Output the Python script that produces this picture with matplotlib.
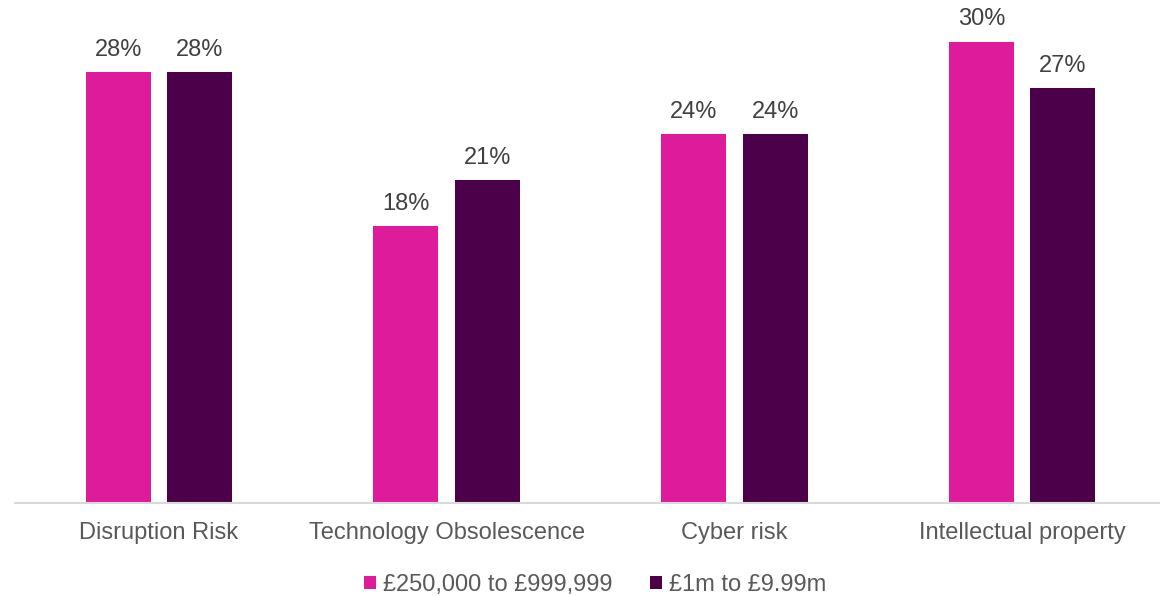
import matplotlib
matplotlib.use("Agg")
import matplotlib.pyplot as plt
from matplotlib.patches import Patch
import numpy as np

plt.rcParams['font.family'] = ['Liberation Sans', 'DejaVu Sans']

categories = ["Disruption Risk", "Technology Obsolescence", "Cyber risk", "Intellectual property"]
series_names = ["£250,000 to £999,999", "£1m to £9.99m"]
small = [28, 18, 24, 30]
large = [28, 21, 24, 27]
colors = ["#DE1B9A", "#4B0049"]

W, H = 1160, 596
fig = plt.figure(figsize=(W / 100, H / 100), dpi=100)
ax = fig.add_axes([15 / W, (H - 503) / H, 1151 / W, 503 / H])

x = np.arange(len(categories))
bw = 0.226
off = 0.1415
for vals, c, dx in [(small, colors[0], -off), (large, colors[1], off)]:
    bars = ax.bar(x + dx, vals, width=bw, color=c, zorder=2)
    for b, v in zip(bars, vals):
        ax.annotate(f"{v}%", (b.get_x() + b.get_width() / 2, v), xytext=(0, 8),
                    textcoords="offset points", ha="center", va="bottom",
                    fontsize=17, color="#404040")

ax.set_xlim(-0.5, 3.5)
ax.set_ylim(0, 32.7)
ax.set_yticks([])
ax.set_xticks(x)
ax.set_xticklabels(categories, fontsize=17, color="#595959")
ax.tick_params(axis="x", length=0, pad=14)
for s in ["top", "right", "left"]:
    ax.spines[s].set_visible(False)
ax.spines["bottom"].set_color("#D9D9D9")
ax.spines["bottom"].set_linewidth(1.5)

handles = [Patch(facecolor=colors[0]), Patch(facecolor=colors[1])]
leg = fig.legend(handles, series_names, loc="center", bbox_to_anchor=(595 / W, (H - 585) / H),
                 ncol=2, frameon=False, fontsize=17, handlelength=0.5, handleheight=0.5,
                 handletextpad=0.3, columnspacing=1.6, borderaxespad=0)
for t in leg.get_texts():
    t.set_color("#595959")

fig.savefig("out.png", dpi=100)
